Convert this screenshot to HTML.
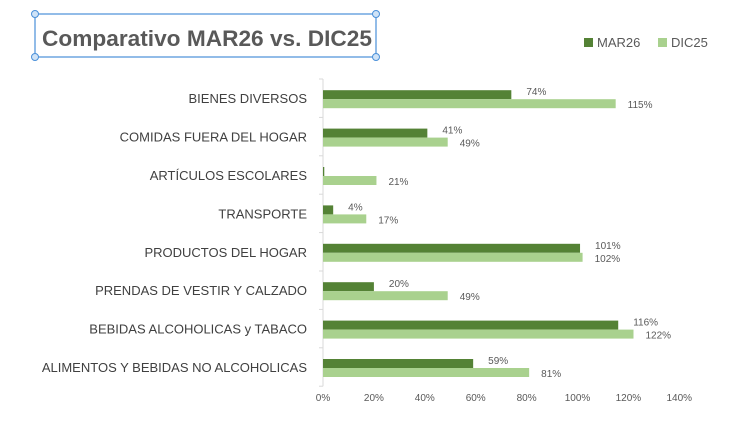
<!DOCTYPE html>
<html><head><meta charset="utf-8"><style>
body{margin:0;background:#fff;width:730px;height:422px;overflow:hidden;font-family:"Liberation Sans",sans-serif}
</style></head><body>
<svg width="730" height="422">
<g>
<rect x="35" y="14" width="341" height="43" fill="none" stroke="#4a90d9" stroke-width="1.2"/>
<circle cx="35" cy="14" r="3.5" fill="#cfe3f7" stroke="#4a90d9"/><circle cx="376" cy="14" r="3.5" fill="#cfe3f7" stroke="#4a90d9"/>
<circle cx="35" cy="57" r="3.5" fill="#cfe3f7" stroke="#4a90d9"/><circle cx="376" cy="57" r="3.5" fill="#cfe3f7" stroke="#4a90d9"/>
<text x="42" y="46" font-size="22" font-weight="bold" fill="#595959" textLength="330" lengthAdjust="spacingAndGlyphs">Comparativo MAR26 vs. DIC25</text>
</g>
<g>
<rect x="584" y="38" width="9" height="9" fill="#548235"/><text x="597" y="47" font-size="13" fill="#595959">MAR26</text>
<rect x="658" y="38" width="9" height="9" fill="#a9d18e"/><text x="671" y="47" font-size="13" fill="#595959">DIC25</text>
</g>
<g id="plot"></g>
</svg>
<script>
const categories=["BIENES DIVERSOS","COMIDAS FUERA DEL HOGAR","ARTÍCULOS ESCOLARES","TRANSPORTE","PRODUCTOS DEL HOGAR","PRENDAS DE VESTIR Y CALZADO","BEBIDAS ALCOHOLICAS y TABACO","ALIMENTOS Y BEBIDAS NO ALCOHOLICAS"];
const mar26=[74,41,0.5,4,101,20,116,59];
const dic25=[115,49,21,17,102,49,122,81];
const mar26Labels=["74%","41%","","4%","101%","20%","116%","59%"];
const dic25Labels=["115%","49%","21%","17%","102%","49%","122%","81%"];
const ticks=[0,20,40,60,80,100,120,140];
const NS="http://www.w3.org/2000/svg";
const plotG=document.getElementById('plot');
const x0=323, pxPer=2.545, plotTop=79, band=38.4;
const xs=v=>x0+v*pxPer;
const yc=i=>plotTop+band*(i+0.5);
function mk(t,a){const e=document.createElementNS(NS,t);for(const k in a)e.setAttribute(k,a[k]);plotG.appendChild(e);return e;}
ticks.forEach(t=>{const e=mk('text',{x:xs(t),y:401,'font-size':10,fill:'#595959','text-anchor':'middle'});e.textContent=t+'%';

});
const ax=mk('line',{x1:x0,y1:plotTop,x2:x0,y2:plotTop+band*8,stroke:'#d9d9d9'});


for(let i=0;i<=8;i++){mk('line',{x1:x0-4,x2:x0,y1:plotTop+band*i,y2:plotTop+band*i,stroke:'#d9d9d9'});}
categories.forEach((c,i)=>{
 const y=yc(i);
 const t=mk('text',{x:307,y:y+5,'font-size':13,fill:'#404040','text-anchor':'end'});t.textContent=c;
 
 
 const b1=mk('rect',{x:x0,y:y-8,width:Math.max(0,xs(mar26[i])-x0),height:9,fill:'#548235'});
 
 
 const b2=mk('rect',{x:x0,y:y+1,width:xs(dic25[i])-x0,height:9,fill:'#a9d18e'});
 
 
 if(mar26Labels[i]){const l=mk('text',{x:xs(mar26[i])+15,y:y-3,'font-size':10,fill:'#595959','text-anchor':'start'});l.textContent=mar26Labels[i];
 
 }
 const l2=mk('text',{x:xs(dic25[i])+12,y:y+10,'font-size':10,fill:'#595959','text-anchor':'start'});l2.textContent=dic25Labels[i];
 
 
});
</script>
</body></html>
